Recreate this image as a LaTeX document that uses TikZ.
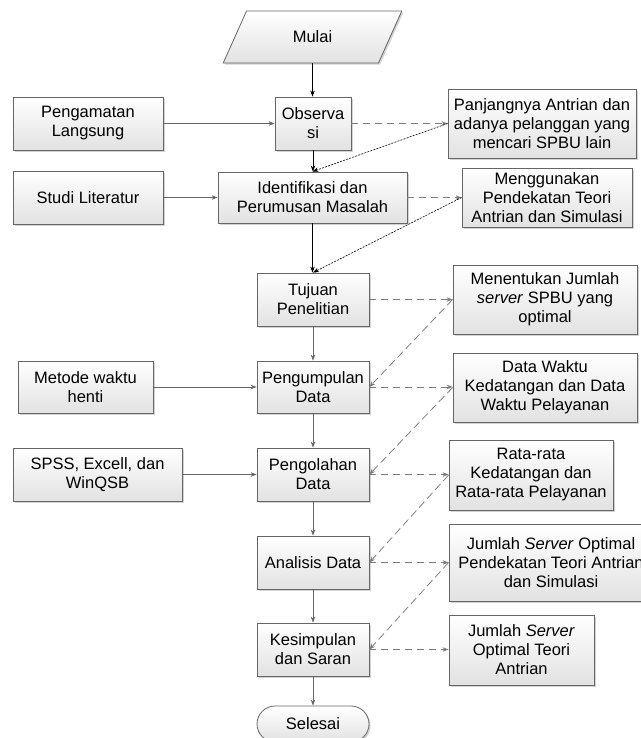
\documentclass[tikz,border=0pt]{standalone}
\usepackage{fontspec}
\setmainfont{Liberation Sans}
\usepackage{tikz}
\usetikzlibrary{arrows.meta,shapes.geometric,shadows}
\definecolor{boxline}{HTML}{666666}
\definecolor{boxfill}{HTML}{E2E2E2}
\definecolor{linkgray}{HTML}{666666}
\definecolor{dashgray}{HTML}{7C7C7C}
\tikzset{flowbox/.style={draw=boxline,line width=0.8pt,top color=white,bottom color=boxfill,
    drop shadow={shadow xshift=1.6pt,shadow yshift=-1.6pt,opacity=0.35},
    align=center,inner sep=1pt,font=\fontsize{16.5}{19}\selectfont},
  sized/.style 2 args={minimum width=#1pt,minimum height=#2pt},
  flowarrow/.style={->,draw=linkgray,line width=0.8pt},
  mainarrow/.style={->,draw=black,line width=0.8pt},
  outarrow/.style={->,draw=dashgray,line width=1pt,dash pattern=on 7pt off 5pt},
  notearrow/.style={->,draw=black,line width=0.6pt,dash pattern=on 2pt off 1.2pt},
  backarrow/.style={->,draw=dashgray,line width=0.75pt,dash pattern=on 8pt off 4pt}}

\begin{document}
\begin{tikzpicture}[x=1pt,y=-1pt,>={Stealth[length=6pt,width=4.5pt]}]
    \useasboundingbox (0,0) rectangle (640,738);

    % alur utama
    \node[flowbox,trapezium,trapezium left angle=62.6,trapezium right angle=117.4,
      trapezium stretches=true,sized={179}{52}] (mulai) at (312.5,37) {Mulai};
    \node[flowbox,sized={76}{53}] (obs) at (313,123.5) {Observa\\si};
    \node[flowbox,sized={189}{51}] (ident) at (312.5,197.5) {Identifikasi dan\\Perumusan Masalah};
    \node[flowbox,sized={112}{53}] (tujuan) at (313,299.5) {Tujuan\\Penelitian};
    \node[flowbox,sized={112}{52}] (kumpul) at (313,387) {Pengumpulan\\Data};
    \node[flowbox,sized={112}{53}] (olah) at (313,474.5) {Pengolahan\\Data};
    \node[flowbox,sized={112}{53}] (analisis) at (313,562.5) {Analisis Data};
    \node[flowbox,sized={112}{53}] (simpul) at (313,649.5) {Kesimpulan\\dan Saran};
    \node[flowbox,sized={112}{36},rounded corners=18pt] (selesai) at (313,724) {Selesai};

    % masukan
    \node[flowbox,sized={150}{53}] (amat) at (88,123.5) {Pengamatan\\Langsung};
    \node[flowbox,sized={150}{53}] (studi) at (88,197.5) {Studi Literatur};
    \node[flowbox,sized={135}{52}] (metode) at (85.5,387) {Metode waktu\\henti};
    \node[flowbox,sized={169}{53}] (spss) at (97.5,474.5) {SPSS, Excell, dan\\WinQSB};

    % keluaran
    \node[flowbox,sized={188}{69}] (panjang) at (542,123.5) {Panjangnya Antrian dan\\adanya pelanggan yang\\mencari SPBU lain};
    \node[flowbox,sized={170}{59}] (guna) at (547,197.5) {Menggunakan\\Pendekatan Teori\\Antrian dan Simulasi};
    \node[flowbox,sized={184}{69}] (tentu) at (545,299.5) {Menentukan Jumlah\\\textit{server} SPBU yang\\optimal};
    \node[flowbox,sized={184}{69}] (dataw) at (545,387.5) {Data Waktu\\Kedatangan dan Data\\Waktu Pelayanan};
    \node[flowbox,sized={164}{70}] (rata) at (531,475) {Rata-rata\\Kedatangan dan\\Rata-rata Pelayanan};
    \node[flowbox,sized={204}{77}] (jmlsim) at (551,562.5) {Jumlah \textit{Server} Optimal\\Pendekatan Teori Antrian\\dan Simulasi};
    \node[flowbox,sized={145}{70}] (jmlteori) at (521.5,650) {Jumlah \textit{Server}\\Optimal Teori\\Antrian};

    \foreach \a/\b in {mulai/obs,obs/ident,ident/tujuan}
      \draw[mainarrow] (\a.south) -- (\a.south |- \b.north);
    \foreach \a/\b in {tujuan/kumpul,kumpul/olah,olah/analisis,analisis/simpul,simpul/selesai}
      \draw[flowarrow] (\a.south) -- (\a.south |- \b.north);

    \foreach \a/\b in {amat/obs,studi/ident,metode/kumpul,spss/olah}
      \draw[flowarrow] (\a.east) -- (\a.east -| \b.west);

    \foreach \a/\b in {obs/panjang,ident/guna,tujuan/tentu,kumpul/dataw,olah/rata,analisis/jmlsim,simpul/jmlteori}
      \draw[outarrow] (\a.east) -- (\a.east -| \b.west);

    \draw[notearrow] (panjang.west) -- (ident.north);
    \draw[notearrow] (guna.west) -- (tujuan.north);
    \foreach \a/\b in {tentu/kumpul,dataw/olah,rata/analisis,jmlsim/simpul}
      \draw[backarrow] (\a.west) -- (\b.east);
  \end{tikzpicture}
\end{document}
